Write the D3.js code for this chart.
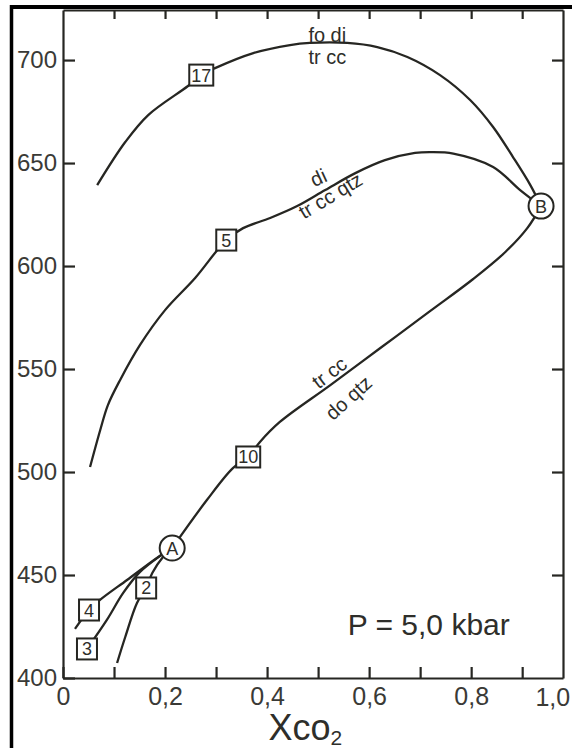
<!DOCTYPE html>
<html>
<head>
<meta charset="utf-8">
<script src="https://cdn.jsdelivr.net/npm/d3@7"></script>
<style>
  body { margin: 0; background: #fff; }
  svg { display: block; }
</style>
</head>
<body>
<script>
// x ticks / y ticks
const xTicks = [0, 0.1, 0.2, 0.3, 0.4, 0.5, 0.6, 0.7, 0.8, 0.9];
const xLabelled = [0, 0.2, 0.4, 0.6, 0.8];
const yTicks = [400, 450, 500, 550, 600, 650, 700];

// curves [xco2, T]
const curve17 = [[0.067, 639.3], [0.122, 660.2], [0.167, 673.3], [0.245, 687.4], [0.271, 692.7], [0.298, 696.1],
  [0.373, 703.4], [0.445, 707.3], [0.484, 708.3], [0.557, 708.3], [0.616, 706.3], [0.675, 701.5],
  [0.739, 692.7], [0.798, 680.6], [0.843, 667.5], [0.882, 652.9], [0.916, 639.3], [0.937, 629.1]];
const curve5 = [[0.053, 502.4], [0.073, 520.4], [0.088, 532.5], [0.112, 544.7], [0.151, 561.7], [0.2, 578.6],
  [0.259, 594.2], [0.32, 612.6], [0.353, 618.4], [0.406, 623.3], [0.459, 629.1], [0.514, 636.9],
  [0.573, 645.1], [0.631, 651.4], [0.69, 654.9], [0.72, 655.3], [0.765, 654.6], [0.843, 648.1],
  [0.896, 636.9], [0.937, 629.1]];
const curve10 = [[0.214, 463.1], [0.282, 486.4], [0.333, 501.9], [0.363, 507.3], [0.386, 514.6], [0.425, 524.3],
  [0.524, 542.2], [0.622, 560.2], [0.72, 578.2], [0.804, 593.7], [0.867, 606.8], [0.91, 618.4],
  [0.937, 629.1]];
const curve4 = [[0.0235, 423.8], [0.051, 433.0], [0.0725, 437.9], [0.1255, 447.6], [0.184, 458.3], [0.214, 463.1]];
const curve3 = [[0.047, 414.1], [0.086, 428.2], [0.118, 441.3], [0.151, 451.5], [0.19, 459.2], [0.214, 463.1]];
const curve2 = [[0.106, 407.3], [0.122, 419.9], [0.145, 436.4], [0.163, 443.7], [0.175, 451.0], [0.196, 458.7], [0.214, 463.1]];

// numbered reaction boxes and invariant points
const boxes = [
  {label: "17", x: 0.271, y: 692.7},
  {label: "5", x: 0.32, y: 612.6},
  {label: "10", x: 0.363, y: 507.3},
  {label: "4", x: 0.051, y: 433.0},
  {label: "3", x: 0.047, y: 414.1},
  {label: "2", x: 0.163, y: 443.7}
];
const points = [
  {label: "A", x: 0.214, y: 463.1},
  {label: "B", x: 0.937, y: 629.1}
];
// reaction labels
const reactionLabels = [
  {text: "fo di", x: 0.518, y: 711.5, angle: 0},
  {text: "tr cc", x: 0.518, y: 700.5, angle: 0},
  {text: "di", x: 0.502, y: 642.2, angle: -25},
  {text: "tr cc qtz", x: 0.526, y: 633.5, angle: -31},
  {text: "tr cc", x: 0.524, y: 547.6, angle: -37},
  {text: "do qtz", x: 0.562, y: 535.4, angle: -42}
];

const width = 572, height = 748;
const margin = {top: 10, left: 63, right: 9, bottom: 70};

const svg = d3.select("body").append("svg")
  .attr("width", width).attr("height", height)
  .style("font-family", "'Liberation Sans', Arial, sans-serif");

const x = d3.scaleLinear().domain([0, 0.98]).range([margin.left, width - margin.right]);
const y = d3.scaleLinear().domain([400, 724.3]).range([height - margin.bottom, margin.top]);

const ink = "#262622";
const fmt = d => d === 0 ? "0" : d3.format(".1f")(d).replace(".", ",");

// frame of the scan
svg.append("line").attr("x1", 10).attr("x2", width).attr("y1", 7).attr("y2", 7)
  .attr("stroke", "#000").attr("stroke-width", 4);
svg.append("line").attr("x1", 11.5).attr("x2", 11.5).attr("y1", 5).attr("y2", height)
  .attr("stroke", "#000").attr("stroke-width", 3.5);

// axes
const gx = svg.append("g").attr("transform", `translate(0,${y.range()[0]})`)
  .call(d3.axisBottom(x).tickValues(xTicks).tickSize(-11).tickSizeOuter(0).tickPadding(6)
    .tickFormat(d => xLabelled.some(v => Math.abs(v - d) < 1e-9) ? fmt(d) : ""));
const gxTop = svg.append("g").attr("transform", `translate(0,${y.range()[1]})`)
  .call(d3.axisTop(x).tickValues(xTicks.slice(1)).tickSize(-9).tickSizeOuter(0).tickFormat(""));
const gy = svg.append("g").attr("transform", `translate(${x.range()[0]},0)`)
  .call(d3.axisLeft(y).tickValues(yTicks).tickSize(-12).tickSizeOuter(0).tickPadding(6).tickFormat(d3.format("d")));
const gyRight = svg.append("g").attr("transform", `translate(${x.range()[1]},0)`)
  .call(d3.axisRight(y).tickValues(yTicks.slice(1)).tickSize(-11).tickSizeOuter(0).tickFormat(""));

[gx, gxTop, gy, gyRight].forEach(g => {
  g.select(".domain").attr("stroke", ink).attr("stroke-width", 2.2);
  g.selectAll(".tick line").attr("stroke", ink).attr("stroke-width", 2.2);
  g.selectAll(".tick text").attr("fill", "#3a3a36");
});
gx.selectAll(".tick text").attr("font-size", 25).attr("dy", "0.85em");
gy.selectAll(".tick text").attr("font-size", 24);

// "1,0" at the right end of the axis
svg.append("text").attr("x", x(0.96)).attr("y", y.range()[0] + 28)
  .attr("text-anchor", "middle").attr("font-size", 25).attr("fill", "#3a3a36").text("1,0");

// axis title Xco2
const title = svg.append("text").attr("x", x(0.475)).attr("y", height - 8)
  .attr("text-anchor", "middle").attr("font-size", 36).attr("fill", "#2e2e2a");
title.append("tspan").text("Xco");
title.append("tspan").attr("font-size", 21).attr("dy", 5).text("2");

// pressure label
svg.append("text").attr("x", x(0.558)).attr("y", y(421))
  .attr("font-size", 30).attr("fill", "#2e2e2a").text("P = 5,0 kbar");

// curves
const line = d3.line().x(d => x(d[0])).y(d => y(d[1])).curve(d3.curveCatmullRom.alpha(0.5));
[curve17, curve5, curve10, curve4, curve3, curve2].forEach(c => {
  svg.append("path").datum(c).attr("d", line)
    .attr("fill", "none").attr("stroke", ink).attr("stroke-width", 2.3);
});

// reaction labels
svg.selectAll(".rlab").data(reactionLabels).join("text").attr("class", "rlab")
  .attr("transform", d => `translate(${x(d.x)},${y(d.y)}) rotate(${d.angle})`)
  .attr("text-anchor", "middle").attr("dominant-baseline", "middle")
  .attr("font-size", 20).attr("fill", "#2e2e2a").text(d => d.text);

// boxes
const bx = svg.selectAll(".box").data(boxes).join("g").attr("class", "box")
  .attr("transform", d => `translate(${x(d.x)},${y(d.y)})`);
bx.append("rect")
  .attr("x", d => d.label.length > 1 ? -12 : -10).attr("y", -10.5)
  .attr("width", d => d.label.length > 1 ? 24 : 20).attr("height", 21)
  .attr("fill", "#fff").attr("stroke", ink).attr("stroke-width", 2);
bx.append("text").attr("text-anchor", "middle").attr("dy", "0.36em")
  .attr("font-size", 18).attr("fill", "#2e2e2a").text(d => d.label);

// invariant points
const pt = svg.selectAll(".pt").data(points).join("g").attr("class", "pt")
  .attr("transform", d => `translate(${x(d.x)},${y(d.y)})`);
pt.append("circle").attr("r", 12.5).attr("fill", "#fff").attr("stroke", ink).attr("stroke-width", 2);
pt.append("text").attr("text-anchor", "middle").attr("dy", "0.36em")
  .attr("font-size", 18).attr("fill", "#2e2e2a").text(d => d.label);
</script>
</body>
</html>
